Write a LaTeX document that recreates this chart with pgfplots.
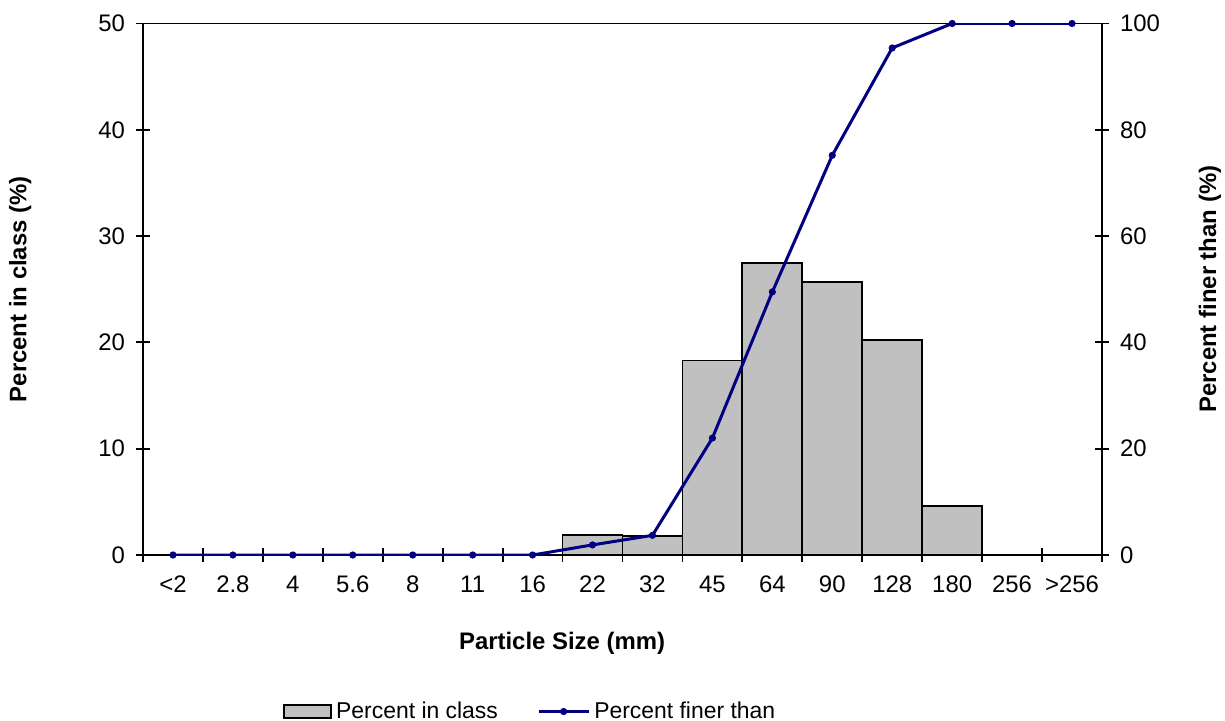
\documentclass[border=0pt]{standalone}
\usepackage{pgfplots}
\pgfplotsset{compat=1.18}
\usepackage{fontspec}
\setmainfont{Liberation Sans}
\definecolor{navyline}{HTML}{000080}
\definecolor{bargray}{HTML}{C0C0C0}

\pgfplotstableread{
x pct cum
0 0 0
1 0 0
2 0 0
3 0 0
4 0 0
5 0 0
6 0 0
7 1.9 1.9
8 1.8 3.7
9 18.3 22.0
10 27.5 49.5
11 25.7 75.2
12 20.2 95.4
13 4.6 100
14 0 100
15 0 100
}\datatable

\begin{document}
\begin{tikzpicture}
\pgfplotsset{
  common/.style={
    scale only axis, width=479.5bp, height=265.75bp,
    at={(0,0)}, anchor=south west,
    xmin=-0.5, xmax=15.5,
    axis line style={line width=0.9bp},
    every tick/.style={line width=0.9bp, black},
    tick align=center,
    major tick length=7bp, minor tick length=7bp,
    tick label style={font=\fontsize{12}{14}\selectfont},
    label style={font=\fontsize{12}{14}\selectfont\bfseries},
    /pgf/number format/assume math mode=true,
  }
}
\begin{axis}[common,
  ymin=0, ymax=50, ytick={0,10,...,50},
  xtick={0,...,15},
  xticklabels={{<2},2.8,4,5.6,8,11,16,22,32,45,64,90,128,180,256,{>256}},
  major x tick style={draw=none},
  minor xtick={-0.5,0.5,...,15.5},
  xtick pos=bottom, ytick pos=left,
  xticklabel style={yshift=-3.5bp},
  yticklabel style={xshift=-2bp},
  xlabel={Particle Size (mm)},
  xlabel style={at={(axis description cs:0.437,-0.166)}, anchor=center},
  ylabel={Percent in class (\%)},
  ylabel style={at={(axis description cs:-0.128,0.5)}, anchor=center},
]
\addplot[ybar, bar width=1, fill=bargray, draw=black, line width=0.9bp] table[x=x,y=pct]{\datatable};
\end{axis}
\begin{axis}[common,
  ymin=0, ymax=100, ytick={0,20,...,100},
  axis y line*=right, axis x line=none,
  yticklabel style={xshift=2bp},
  ylabel={Percent finer than (\%)},
  ylabel style={at={(axis description cs:1.1126,0.5)}, anchor=center},
  legend columns=2,
  legend style={draw=none, fill=none, at={(axis description cs:0.146,-0.2945)}, anchor=west,
    inner xsep=0pt, font=\fontsize{11.5}{13}\selectfont,
    /tikz/every even column/.append style={column sep=17.5bp}},
]
\addlegendimage{legend image code/.code={\draw[fill=bargray,draw=black,line width=0.9bp] (0bp,-3.2bp) rectangle (23.5bp,3.2bp);}}
\addlegendentry{Percent in class}
\addplot[navyline, line width=1.5bp, mark=*, mark size=1bp,
  legend image code/.code={\draw[navyline,line width=1.7bp] (0bp,0bp) -- (25bp,0bp); \fill[navyline] (12.5bp,0bp) circle (1bp);}]
  table[x=x,y=cum]{\datatable};
\addlegendentry{Percent finer than}
\end{axis}
\pgfresetboundingbox
\useasboundingbox (-71.5bp,-83bp) rectangle (541bp,277.5bp);
\end{tikzpicture}
\end{document}
